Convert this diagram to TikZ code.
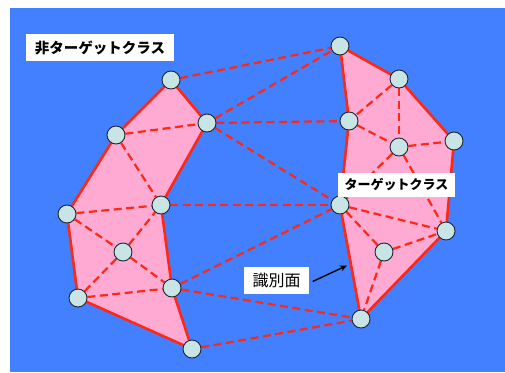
\documentclass[tikz,border=0pt]{standalone}
\usepackage{fontspec}
\newfontfamily\jp{Noto Sans CJK JP}
\usetikzlibrary{arrows.meta}
\definecolor{bgblue}{RGB}{66,128,255}
\definecolor{regpink}{RGB}{255,170,210}
\definecolor{linered}{RGB}{255,40,20}
\definecolor{ptfill}{RGB}{200,228,228}
\definecolor{ptedge}{RGB}{30,40,50}
\pgfdeclarelayer{bg}
\pgfsetlayers{bg,main}
\tikzset{
  pt/.style={circle,draw=ptedge,line width=0.9pt,fill=ptfill,minimum size=18pt,inner sep=0pt},
  edgeline/.style={draw=linered,line width=2.6pt,line join=round},
  dashline/.style={draw=linered,line width=2.2pt,dash pattern=on 8pt off 4.5pt},
  region/.style={fill=regpink},
  labelbox/.style={fill=white,inner sep=0pt,font=\jp\bfseries},
}
\begin{document}
\begin{tikzpicture}[x=1pt,y=-1pt]
\useasboundingbox (0,0) rectangle (505,372);
% points
\node[pt] (A) at (171,80) {};
\node[pt] (B) at (207,123) {};
\node[pt] (C) at (116,135) {};
\node[pt] (D) at (161,205) {};
\node[pt] (E) at (67,214) {};
\node[pt] (F) at (123,252) {};
\node[pt] (G) at (172,288) {};
\node[pt] (H) at (78,298) {};
\node[pt] (I) at (192,349) {};
\node[pt] (J) at (340,46) {};
\node[pt] (K) at (399,79) {};
\node[pt] (L) at (349,121) {};
\node[pt] (M) at (399,147) {};
\node[pt] (N) at (454,141) {};
\node[pt] (O) at (340,205) {};
\node[pt] (P) at (446,231) {};
\node[pt] (Q) at (384,252) {};
\node[pt] (R) at (361,319) {};
\begin{pgfonlayer}{bg}
\fill[bgblue] (10,8) rectangle (505,372);
% regions
\path[region,edgeline] (A.center) -- (B.center) -- (D.center) -- (G.center) -- (I.center) -- (H.center) -- (E.center) -- (C.center) -- cycle;
\path[region,edgeline] (J.center) -- (K.center) -- (N.center) -- (P.center) -- (R.center) -- (O.center) -- (L.center) -- cycle;
% inner dashed, left
\draw[dashline] (C) -- (B);
\draw[dashline] (C) -- (D);
\draw[dashline] (E) -- (D);
\draw[dashline] (E) -- (F);
\draw[dashline] (F) -- (D);
\draw[dashline] (F) -- (H);
\draw[dashline] (F) -- (G);
\draw[dashline] (H) -- (G);
% inner dashed, right
\draw[dashline] (K) -- (L);
\draw[dashline] (K) -- (M);
\draw[dashline] (L) -- (M);
\draw[dashline] (M) -- (N);
\draw[dashline] (M) -- (O);
\draw[dashline] (M) -- (P);
\draw[dashline] (O) -- (P);
\draw[dashline] (O) -- (Q);
\draw[dashline] (Q) -- (P);
\draw[dashline] (Q) -- (R);
% between classes
\draw[dashline] (A) -- (J);
\draw[dashline] (B) -- (J);
\draw[dashline] (B) -- (L);
\draw[dashline] (B) -- (O);
\draw[dashline] (D) -- (O);
\draw[dashline] (G) -- (O);
\draw[dashline] (G) -- (R);
\draw[dashline] (I) -- (R);
\end{pgfonlayer}
% labels
\node[labelbox,minimum width=148pt,minimum height=27pt,font=\jp\bfseries\fontsize{14.5}{16}\selectfont] (nt) at (100,47.5) {非ターゲットクラス};
\node[labelbox,minimum width=117pt,minimum height=24pt,font=\jp\bfseries\fontsize{13}{15}\selectfont] (tc) at (396.5,185) {ターゲットクラス};
\node[fill=white,inner sep=0pt,minimum width=65pt,minimum height=27pt,font=\jp\fontsize{16}{18}\selectfont] (sb) at (276.5,280.5) {識別面};
\coordinate (tip) at (347,265.5);
\draw[-{Stealth[length=7pt,width=6pt]},line width=1.4pt,black] (sb.east) ++(3.5,1) -- (tip);
\end{tikzpicture}
\end{document}
